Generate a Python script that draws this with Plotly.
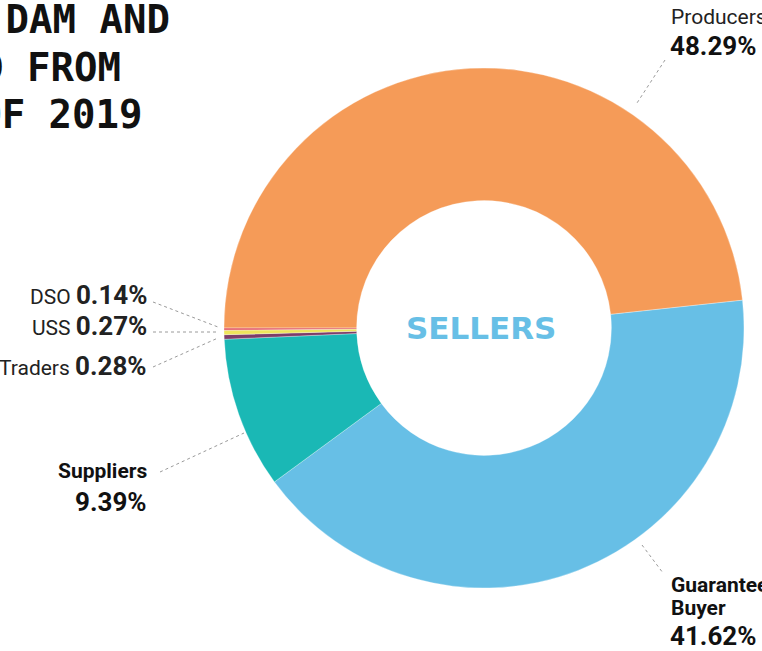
import plotly.graph_objects as go

W, H = 762, 651

# ---- data ----
sellers = ["Producers", "Guaranteed Buyer", "Suppliers", "Traders", "USS", "DSO"]
shares = [48.29, 41.62, 9.39, 0.28, 0.27, 0.14]
colors = ["#F59B58", "#67BFE6", "#1AB8B5", "#7D3D69", "#EEE45C", "#E4646C"]
title_lines = ["SHARE OF SELLERS ON DAM AND", "VOLUME OF ELECTRICITY SOLD FROM", "JULY TO DECEMBER OF 2019"]
center_label = "SELLERS"


def px(x):
    return x / W


def py(y):
    return 1 - y / H


fig = go.Figure()
fig.add_trace(go.Pie(
    labels=sellers,
    values=shares,
    sort=False,
    direction="clockwise",
    rotation=-90,
    hole=0.49,
    marker=dict(colors=colors, line=dict(color="rgba(255,255,255,0.6)", width=0.5)),
    textinfo="none",
    hoverinfo="label+percent",
    domain=dict(x=[px(224), px(744)], y=[py(588), py(68)]),
    showlegend=False,
))

ann = []
font_r = "Roboto"
fmt = lambda v: f"{v:.2f}%"
NAME, VAL = 21, 26

# title (cropped on the left in the reference)
title_pos = [(172, 19), (123, 67), (145, 115)]
for t, (x, y) in zip(title_lines, title_pos):
    ann.append(dict(x=px(x), y=py(y), text=f"<b>{t}</b>", xanchor="right", yanchor="middle",
                    showarrow=False, font=dict(family="DejaVu Sans Mono", size=39, color="#111")))

# Producers
ann.append(dict(x=px(669), y=py(17), text=sellers[0], xanchor="left", yanchor="middle",
                showarrow=False, font=dict(family=font_r, size=NAME, color="#222")))
ann.append(dict(x=px(668), y=py(46), text=f"<b>{fmt(shares[0])}</b>", xanchor="left", yanchor="middle",
                showarrow=False, font=dict(family=font_r, size=VAL, color="#111")))
# Guaranteed Buyer
gb1, gb2 = sellers[1].split(" ")
ann.append(dict(x=px(669), y=py(585), text=f"<b>{gb1}</b>", xanchor="left", yanchor="middle",
                showarrow=False, font=dict(family=font_r, size=NAME, color="#111")))
ann.append(dict(x=px(669), y=py(608), text=f"<b>{gb2}</b>", xanchor="left", yanchor="middle",
                showarrow=False, font=dict(family=font_r, size=NAME, color="#111")))
ann.append(dict(x=px(668), y=py(636), text=f"<b>{fmt(shares[1])}</b>", xanchor="left", yanchor="middle",
                showarrow=False, font=dict(family=font_r, size=VAL, color="#111")))
# Suppliers
ann.append(dict(x=px(149), y=py(471), text=f"<b>{sellers[2]}</b>", xanchor="right", yanchor="middle",
                showarrow=False, font=dict(family=font_r, size=NAME, color="#111")))
ann.append(dict(x=px(149), y=py(502), text=f"<b>{fmt(shares[2])}</b>", xanchor="right", yanchor="middle",
                showarrow=False, font=dict(family=font_r, size=VAL, color="#111")))
# small slices
small = [(5, 295), (4, 326), (3, 366)]
for i, y in small:
    ann.append(dict(x=px(149), y=py(y),
                    text=f"{sellers[i]} <span style='font-size:{VAL}px'><b>{fmt(shares[i])}</b></span>",
                    xanchor="right", yanchor="middle", showarrow=False,
                    font=dict(family=font_r, size=NAME, color="#222")))

# centre label
ann.append(dict(x=px(481), y=py(328), text=f"<b>{center_label}</b>", xanchor="center", yanchor="middle",
                showarrow=False, font=dict(family="DejaVu Sans", size=31, color="#67BFE6")))

# leader lines
leaders = [
    ((665, 60), (637, 103)),
    ((642, 545), (663, 573)),
    ((160, 472), (244, 433)),
    ((153, 302), (218, 327)),
    ((153, 332), (218, 332)),
    ((153, 367), (218, 338)),
]
shapes = []
for (x0, y0), (x1, y1) in leaders:
    shapes.append(dict(type="line", xref="paper", yref="paper", x0=px(x0), y0=py(y0), x1=px(x1), y1=py(y1),
                       line=dict(color="#9a9a9a", width=1, dash="dot")))

fig.update_layout(
    width=W, height=H,
    margin=dict(l=0, r=0, t=0, b=0),
    paper_bgcolor="white", plot_bgcolor="white",
    annotations=ann, shapes=shapes,
)

fig.write_html(
    "out.html",
    config={"displayModeBar": False},
    post_script="document.body.style.margin='0';document.body.style.overflow='hidden';",
)
